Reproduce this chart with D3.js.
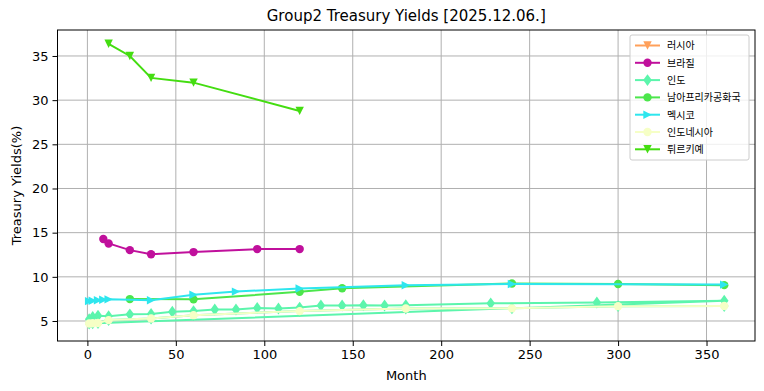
<!DOCTYPE html>
<html><head><meta charset="utf-8">
<script src="https://cdn.jsdelivr.net/npm/d3@7"></script>
<style>body{margin:0;background:#fff} svg{display:block}</style>
</head><body><svg id="c" width="764" height="391"></svg>
<script>
const chartTitle = "Group2 Treasury Yields [2025.12.06.]";
const xLabel = "Month";
const yLabel = "Treasury Yields(%)";
const xTicks = [0, 50, 100, 150, 200, 250, 300, 350];
const yTicks = [5, 10, 15, 20, 25, 30, 35];

const names = ["러시아", "브라질", "인도", "남아프리카공화국", "멕시코", "인도네시아", "튀르키예"];
const colors = ["#ffa05a", "#c0109c", "#5cf5ac", "#4ce64c", "#2ee6ee", "#f6ffc6", "#44dd11"];
const markers = ["v", "o", "D", "o", ">", "o", "v"];

const russiaMonths = [];
const russiaYields = [];
const brazilMonths = [9, 12, 24, 36, 60, 96, 120];
const brazilYields = [14.28, 13.78, 13.02, 12.55, 12.8, 13.14, 13.14];
const indiaMonths = [1, 3, 6, 12, 24, 36, 48, 60, 72, 84, 96, 108, 120, 132, 144, 156, 168, 180, 228, 288, 360];
const indiaYields = [5.2, 5.45, 5.6, 5.55, 5.75, 5.8, 6.05, 6.12, 6.3, 6.3, 6.48, 6.42, 6.52, 6.75, 6.75, 6.78, 6.75, 6.78, 7.0, 7.1, 7.3];
const safricaMonths = [24, 60, 120, 144, 240, 300, 360];
const safricaYields = [7.48, 7.45, 8.3, 8.7, 9.25, 9.18, 9.06];
const mexicoMonths = [1, 3, 6, 9, 12, 36, 60, 84, 120, 180, 240, 360];
const mexicoYields = [7.25, 7.3, 7.35, 7.4, 7.45, 7.35, 7.97, 8.33, 8.68, 9.05, 9.18, 9.12];
const indonesiaMonths = [1, 3, 6, 12, 36, 60, 120, 180, 240, 300, 360];
const indonesiaYields = [4.72, 4.74, 4.78, 5.1, 5.28, 5.66, 6.12, 6.42, 6.43, 6.68, 6.7];
const turkeyMonths = [12, 24, 36, 60, 120];
const turkeyYields = [36.38, 35.0, 32.52, 31.98, 28.78];

// The "인도" (India) trace in the source also picked up the "인도네시아" rows
// (name match), so its line runs through India's points then Indonesia's.
const monthsList = [russiaMonths, brazilMonths, indiaMonths.concat(indonesiaMonths), safricaMonths, mexicoMonths, indonesiaMonths, turkeyMonths];
const yieldsList = [russiaYields, brazilYields, indiaYields.concat(indonesiaYields), safricaYields, mexicoYields, indonesiaYields, turkeyYields];

const series = names.map((n, i) => ({
  name: n, color: colors[i], marker: markers[i],
  pts: monthsList[i].map((m, j) => ({ m, v: yieldsList[i][j] }))
}));

const L = 57.5, R = 755, T = 30, B = 341;
const x = d3.scaleLinear().domain([-16.9, 377.4]).range([L, R]);
const y = d3.scaleLinear().domain([2.736, 37.94]).range([B, T]);

const svg = d3.select("#c");
const font = "DejaVu Sans, sans-serif";

// grid
const g = svg.append("g");
g.selectAll(".gx").data(xTicks).enter().append("line")
  .attr("x1", d => x(d)).attr("x2", d => x(d)).attr("y1", T).attr("y2", B)
  .attr("stroke", "#b0b0b0").attr("stroke-width", 1);
g.selectAll(".gy").data(yTicks).enter().append("line")
  .attr("y1", d => y(d)).attr("y2", d => y(d)).attr("x1", L).attr("x2", R)
  .attr("stroke", "#b0b0b0").attr("stroke-width", 1);

// axes
const xAxis = d3.axisBottom(x).tickValues(xTicks).tickSize(5).tickPadding(4).tickFormat(d3.format("d"));
const yAxis = d3.axisLeft(y).tickValues(yTicks).tickSize(5).tickPadding(4).tickFormat(d3.format("d"));
const gx = svg.append("g").attr("transform", `translate(0,${B})`).call(xAxis);
const gy = svg.append("g").attr("transform", `translate(${L},0)`).call(yAxis);
[gx, gy].forEach(a => {
  a.select(".domain").remove();
  a.selectAll("text").attr("font-family", font).attr("font-size", 13).attr("fill", "#000");
  a.selectAll("line").attr("stroke", "#000").attr("stroke-width", 1);
});

function markerPath(type, r) {
  if (type === "o") return d3.symbol().type(d3.symbolCircle).size(Math.PI * r * r)();
  if (type === "D") { const h = r * 1.414; return `M0,${-h}L${h * 0.72},0L0,${h}L${-h * 0.72},0Z`; }
  if (type === "v") return `M${-r},${-r}L${r},${-r}L0,${r}Z`;
  if (type === "^") return `M${-r},${r}L${r},${r}L0,${-r}Z`;
  if (type === ">") return `M${-r},${-r}L${r},0L${-r},${r}Z`;
  return "";
}

const plot = svg.append("g");
plot.append("clipPath").attr("id", "clip").append("rect").attr("x", L).attr("y", T).attr("width", R - L).attr("height", B - T);
const line = d3.line().x(d => x(d.m)).y(d => y(d.v));
series.forEach(s => {
  const sg = plot.append("g").attr("clip-path", "url(#clip)");
  if (s.pts.length) sg.append("path").attr("d", line(s.pts)).attr("fill", "none").attr("stroke", s.color).attr("stroke-width", 2);
  sg.selectAll("path.m").data(s.pts).enter().append("path").attr("class", "m")
    .attr("d", markerPath(s.marker, 4.2)).attr("transform", d => `translate(${x(d.m)},${y(d.v)})`)
    .attr("fill", s.color);
});

// frame
svg.append("rect").attr("x", L).attr("y", T).attr("width", R - L).attr("height", B - T)
  .attr("fill", "none").attr("stroke", "#000").attr("stroke-width", 1);

// title & labels
svg.append("text").attr("x", (L + R) / 2).attr("y", 21).attr("text-anchor", "middle")
  .attr("font-family", font).attr("font-size", 15).text(chartTitle);
svg.append("text").attr("x", (L + R) / 2).attr("y", 380).attr("text-anchor", "middle")
  .attr("font-family", font).attr("font-size", 13).text(xLabel);
svg.append("text").attr("transform", `translate(21,${(T + B) / 2}) rotate(-90)`).attr("text-anchor", "middle")
  .attr("font-family", font).attr("font-size", 13).text(yLabel);

// legend
const lg = svg.append("g");
lg.append("rect").attr("x", 630).attr("y", 35).attr("width", 119).attr("height", 125).attr("rx", 2)
  .attr("fill", "#fff").attr("fill-opacity", 0.8).attr("stroke", "#cccccc").attr("stroke-width", 1);
series.forEach((s, i) => {
  const cy = 45.5 + i * 17.3;
  lg.append("line").attr("x1", 635).attr("x2", 660).attr("y1", cy).attr("y2", cy).attr("stroke", s.color).attr("stroke-width", 2);
  lg.append("path").attr("d", markerPath(s.marker, 4.2)).attr("transform", `translate(647.5,${cy})`).attr("fill", s.color);
  lg.append("text").attr("x", 667).attr("y", cy + 3.8).attr("font-family", "Noto Sans CJK KR, sans-serif")
    .attr("font-size", 10).text(s.name);
});
</script></body></html>
